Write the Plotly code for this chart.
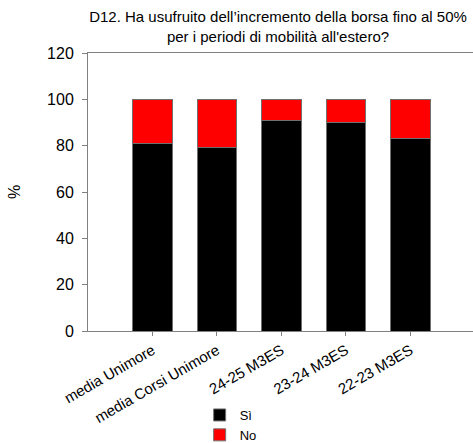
import plotly.graph_objects as go

categories = ["media Unimore", "media Corsi Unimore", "24-25 M3ES", "23-24 M3ES", "22-23 M3ES"]
si_values = [80.9, 79.2, 90.9, 89.9, 83.3]
no_values = [19.1, 20.8, 9.1, 10.1, 16.7]
y_ticks = [0, 20, 40, 60, 80, 100, 120]

fig = go.Figure()
fig.add_trace(go.Bar(x=categories, y=si_values, name="Sì",
                     marker=dict(color="black", line=dict(color="#707070", width=1)),
                     width=0.61))
fig.add_trace(go.Bar(x=categories, y=no_values, name="No",
                     marker=dict(color="#ff0000", line=dict(color="#707070", width=1)),
                     width=0.61))

fig.update_layout(
    barmode="stack",
    width=473, height=443,
    margin=dict(l=88, r=0, t=53, b=112),
    paper_bgcolor="white", plot_bgcolor="white",
    font=dict(family="Arial, Liberation Sans, sans-serif", color="black"),
    title=dict(text="D12. Ha usufruito dell’incremento della borsa fino al 50%<br>per i periodi di mobilità all'estero?",
               x=278 / 473, xanchor="center", xref="container",
               yref="container", y=1 - 22 / 443, yanchor="top",
               font=dict(size=15)),
    showlegend=True,
    legend=dict(x=0.29, xref="paper", y=1 - 400 / 443, yref="container",
                xanchor="left", yanchor="top",
                orientation="v", font=dict(size=13), traceorder="normal",
                bgcolor="rgba(0,0,0,0)", tracegroupgap=0),
    bargap=0.39,
)
fig.update_xaxes(range=[-1, 4.97], showline=True, linecolor="#808080", linewidth=1,
                 mirror=True, ticks="outside", ticklen=4, tickcolor="#808080",
                 tickangle=-30, tickfont=dict(size=15), showgrid=False, automargin=False)
fig.update_yaxes(range=[0, 120], tickvals=y_ticks, showline=True, linecolor="#808080",
                 linewidth=1, ticks="outside", ticklen=5, tickcolor="#808080",
                 ticklabelstandoff=5,
                 tickfont=dict(size=16), showgrid=False, zeroline=False, automargin=False,
                 title=dict(text="%", font=dict(size=16), standoff=22))

fig.write_html("out.html", config={"displayModeBar": False},
               post_script="document.body.style.margin='0';document.body.style.overflow='hidden';")
